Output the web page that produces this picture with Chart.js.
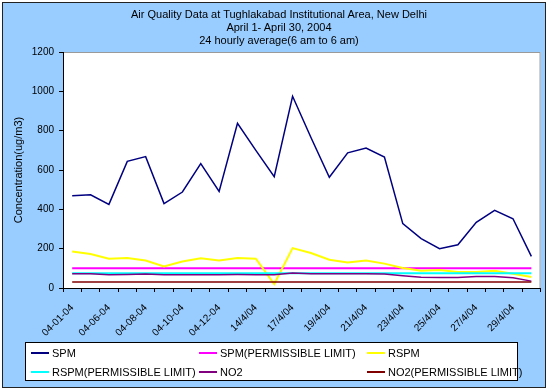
<!DOCTYPE html>
<html><head><meta charset="utf-8">
<script src="https://cdn.jsdelivr.net/npm/chart.js@4"></script>
<style>
html,body{margin:0;padding:0;background:#fff;width:550px;height:392px;overflow:hidden;font-family:"Liberation Sans",Arial,sans-serif;}
#frame{position:absolute;left:2px;top:2px;width:544px;height:386px;background:#99CCFF;border:1px solid #222;box-sizing:border-box;}
#c{position:absolute;left:0;top:0;}
.tl{position:absolute;left:0;width:558px;text-align:center;font-size:11px;line-height:13px;color:#000;white-space:nowrap;}
#legend{position:absolute;left:25px;top:342px;width:493px;height:39px;background:#fff;border:1px solid #000;box-sizing:border-box;}
.li{position:absolute;font-size:11px;line-height:13px;color:#000;white-space:nowrap;}
.ls{position:absolute;height:2px;width:18px;}
</style>
</head><body>
<div id="frame"></div>
<canvas id="c" width="550" height="392"></canvas>
<div class="tl" style="top:8px">Air Quality Data at Tughlakabad Institutional Area, New Delhi</div>
<div class="tl" style="top:21px">April 1- April 30, 2004</div>
<div class="tl" style="top:34px">24 hourly average(6 am to 6 am)</div>
<div id="legend"></div>
<script>
const categories = ['04-01-04','04-05-04','04-06-04','04-07-04','04-08-04','04-09-04','04-10-04','04-11-04','04-12-04','13/4/04','14/4/04','16/4/04','17/4/04','18/4/04','19/4/04','20/4/04','21/4/04','22/4/04','23/4/04','24/4/04','25/4/04','26/4/04','27/4/04','28/4/04','29/4/04','30/4/04'];
const spm = [469,474,425,644,668,429,488,632,491,837,700,566,975,765,563,687,712,666,327,251,200,220,334,395,352,161];
const spmLimit = [100,100,100,100,100,100,100,100,100,100,100,100,100,100,100,100,100,100,100,100,100,100,100,100,100,100];
const rspm = [186,173,149,152,140,110,135,151,140,152,149,20,203,178,144,130,140,124,102,88,92,81,81,88,73,56];
const rspmLimit = [75,75,75,75,75,75,75,75,75,75,75,75,75,75,75,75,75,75,75,75,75,75,75,75,75,75];
const no2 = [73,72,68,69,71,68,68,68,68,69,68,68,76,72,72,72,72,71,62,55,54,54,59,59,52,35];
const no2Limit = [30,30,30,30,30,30,30,30,30,30,30,30,30,30,30,30,30,30,30,30,30,30,30,30,30,30];
const seriesNames = ['SPM','SPM(PERMISSIBLE LIMIT)','RSPM','RSPM(PERMISSIBLE LIMIT)','NO2','NO2(PERMISSIBLE LIMIT)'];
const yTicks = [0,200,400,600,800,1000,1200];
const yTitle = 'Concentration(ug/m3)';

const seriesData = [spm, spmLimit, rspm, rspmLimit, no2, no2Limit];
const colors = ['#000080','#FF00FF','#FFFF00','#00FFFF','#800080','#800000'];
const widths = [1.5,2,2,2,1.5,1.5];

const datasets = seriesData.map((d,i)=>({
  label: seriesNames[i], data: d, borderColor: colors[i], backgroundColor: colors[i],
  borderWidth: widths[i], pointRadius: 0, tension: 0, fill: false, order: 6 - i
}));

const plotBg = {
  id:'plotBg',
  beforeDraw(chart){
    const a = chart.chartArea, ctx = chart.ctx;
    ctx.save();
    ctx.fillStyle = '#fff';
    ctx.fillRect(a.left, a.top, a.right - a.left, a.bottom - a.top);
    ctx.strokeStyle = '#9a9a9a';
    ctx.lineWidth = 1;
    ctx.strokeRect(a.left + 0.5, a.top + 0.5, a.right - a.left - 1, a.bottom - a.top);
    ctx.restore();
  }
};

new Chart(document.getElementById('c'), {
  type: 'line',
  data: { labels: categories, datasets },
  options: {
    responsive: false, animation: false, events: [],
    layout: { padding: { left: 0, top: 52, right: 8, bottom: 54 } },
    plugins: { legend: { display: false }, tooltip: { enabled: false }, title: { display: false } },
    scales: {
      x: {
        type: 'category', offset: true,
        grid: { offset: true, drawOnChartArea: false, drawTicks: true, tickLength: 4, color: '#000' },
        border: { color: '#000', width: 1 },
        ticks: {
          autoSkip: false, minRotation: 45, maxRotation: 45, padding: 10, color: '#000',
          font: { family: '"Liberation Sans", Arial, sans-serif', size: 10 },
          callback: (v, i) => (i % 2 === 0 ? categories[i] : '')
        },
        afterFit: s => { s.height = 50; }
      },
      y: {
        min: 0, max: 1200,
        afterBuildTicks: s => { s.ticks = yTicks.map(v => ({ value: v })); },
        grid: { drawOnChartArea: false, drawTicks: true, tickLength: 4, color: '#000' },
        border: { color: '#000', width: 1 },
        ticks: { color: '#000', padding: 5, font: { family: '"Liberation Sans", Arial, sans-serif', size: 10 },
                 callback: v => String(v) },
        title: { display: true, text: yTitle, color: '#000', padding: { top: 12, bottom: 0 },
                 font: { family: '"Liberation Sans", Arial, sans-serif', size: 11 } },
        afterFit: s => { s.width = 63; }
      }
    }
  },
  plugins: [plotBg]
});

// HTML legend built from the series
const legend = document.getElementById('legend');
const colX = [5, 173, 341];
const rowY = [9, 28];
seriesNames.forEach((name, i) => {
  const col = i % 3, row = Math.floor(i / 3);
  const s = document.createElement('div');
  s.className = 'ls';
  s.style.left = colX[col] + 'px';
  s.style.top = rowY[row] + 'px';
  s.style.background = colors[i];
  legend.appendChild(s);
  const t = document.createElement('div');
  t.className = 'li';
  t.style.left = (colX[col] + 21) + 'px';
  t.style.top = (rowY[row] - 5.5) + 'px';
  t.textContent = name;
  legend.appendChild(t);
});
</script>
</body></html>
